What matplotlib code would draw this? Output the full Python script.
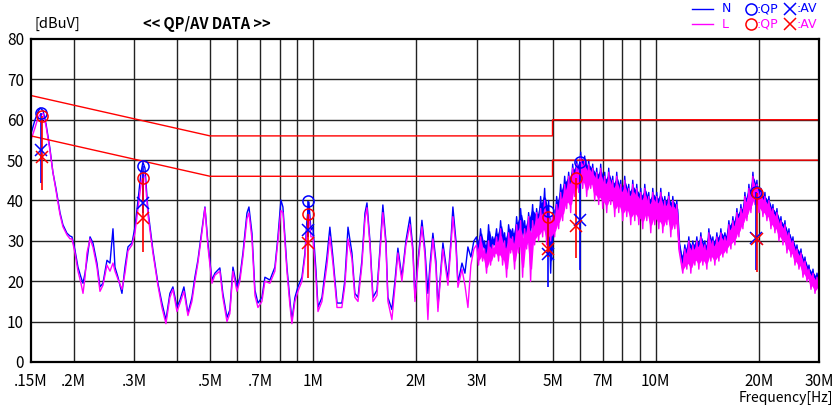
import numpy as np
import matplotlib.pyplot as plt
from matplotlib.lines import Line2D

plt.rcParams['font.family'] = ['Noto Sans CJK JP', 'DejaVu Sans']

# sweep points below 3 MHz [MHz], shared by N and L
f_low = [0.150, 0.1541, 0.1572, 0.1594, 0.1626, 0.1659, 0.1703, 0.1738, 0.1774, 0.1798,
         0.1823, 0.1859, 0.1910, 0.1950, 0.1976, 0.2016, 0.2057, 0.2099, 0.2128, 0.2157,
         0.2185, 0.2231, 0.2275, 0.2337, 0.2385, 0.2433, 0.2500, 0.2551, 0.2603, 0.2638,
         0.2692, 0.2765, 0.2822, 0.2879, 0.2958, 0.3018, 0.3080, 0.3143, 0.3184, 0.3228,
         0.3293, 0.3405, 0.3521, 0.3618, 0.3716, 0.3817, 0.3895, 0.4002, 0.4083, 0.4194,
         0.4309, 0.4426, 0.4515, 0.4607, 0.4733, 0.4831, 0.4929, 0.5064, 0.5165, 0.5341,
         0.5449, 0.5602, 0.5712, 0.5832, 0.5990, 0.6109, 0.6237, 0.6408, 0.6494, 0.6627,
         0.6761, 0.6899, 0.7086, 0.7230, 0.7477, 0.7732, 0.7891, 0.8051, 0.8161, 0.8384,
         0.8554, 0.8670, 0.8847, 0.9026, 0.9273, 0.9462, 0.9590, 0.9720, 0.9851, 0.9986,
         1.019, 1.033, 1.061, 1.097, 1.119, 1.142, 1.174, 1.213, 1.238, 1.264,
         1.298, 1.324, 1.352, 1.388, 1.417, 1.436, 1.465, 1.495, 1.536, 1.567,
         1.598, 1.631, 1.653, 1.698, 1.733, 1.768, 1.816, 1.866, 1.917, 1.956,
         1.983, 2.023, 2.078, 2.120, 2.163, 2.193, 2.237, 2.283, 2.314, 2.345,
         2.393, 2.442, 2.475, 2.525, 2.559, 2.612, 2.647, 2.720, 2.775, 2.831,
         2.888, 2.947]

n_low = [56.5, 60, 62, 62.9, 62.3, 59, 53, 47, 43, 40,
         37, 34, 31.9, 31.2, 31, 27.7, 23.5, 21, 19.5, 22,
         25.2, 31, 29.5, 24.5, 18.6, 19.5, 25.2, 24.5, 33, 23.5,
         21, 17, 23.5, 28.5, 29.5, 33.4, 40, 47, 49.5, 48,
         37.6, 27.7, 19.5, 14.6, 10.4, 17, 18.6, 13.6, 15.3, 18.6,
         12, 16, 21, 25.2, 32.7, 38.4, 29.5, 20.3, 22, 23.3,
         17, 11, 12.9, 23.5, 18.6, 21, 27, 36.9, 38.4, 31.9,
         17.8, 14.6, 16, 21, 20.3, 23.5, 31, 40.1, 38.4, 23.5,
         15.3, 10.4, 16, 18.6, 21, 27, 35, 39.6, 32.7, 33.4,
         22.8, 13.6, 16, 26, 33.4, 26, 14.6, 14.6, 20.3, 33.4,
         27, 17, 16, 25.2, 36.9, 39.4, 30, 16, 17.8, 28,
         38.9, 30, 16, 13, 20, 28.2, 21, 30, 35.9, 28,
         16, 25, 35.1, 28, 17, 24, 31.9, 25, 13.6, 20,
         29.5, 24, 20.3, 30, 38.4, 30, 19.5, 24.5, 22, 28.5,
         26, 30]

l_low = [55, 58, 60.5, 61.3, 61.5, 58.5, 52.5, 47, 42.5, 39.5,
         36.5, 33.5, 31.5, 30.5, 30.5, 27, 22.5, 19.5, 17, 21,
         27, 30.5, 28.5, 23.5, 17.5, 19, 24, 22.5, 24.5, 22.5,
         20.5, 18, 22, 27.5, 29, 32, 38, 44, 46.5, 46,
         36.5, 27, 19, 13.5, 9.5, 16, 18, 12.5, 14.5, 17.5,
         11.5, 15, 20, 24.5, 32, 38.2, 28.5, 19.5, 21.5, 22.5,
         16, 10, 12, 22.5, 17.5, 20, 26, 35.5, 36.9, 30.5,
         16.5, 13.5, 15, 20, 19.5, 22.5, 30, 37.5, 37, 22.5,
         14, 9.5, 15, 17.5, 20, 26, 33, 36.5, 31, 31,
         21, 12.5, 15, 24, 31, 24.5, 13.5, 13.5, 19, 30.5,
         25.5, 16, 15, 24, 35.5, 38.2, 29, 15, 16.5, 27,
         37, 29, 15, 10.5, 18.5, 27, 20, 29, 34, 27,
         15, 24, 33.5, 26.5, 10.5, 22, 30.5, 23.5, 12.5, 19,
         28, 22.5, 19, 28.5, 36, 28.5, 18.5, 23, 19, 13.5,
         24, 28]

# 3 - 30 MHz: dense sweep, levels
n_high = [31, 26, 33, 28, 30, 25, 34, 27, 31, 29,
          33, 27, 35, 29, 32, 26, 34, 30, 33, 28,
          36, 30, 38, 31, 35, 29, 37, 32, 39, 31,
          38, 32, 41, 34, 43, 31, 40, 22, 37, 33,
          41, 36, 44, 38, 46, 40, 47, 41, 49, 43,
          50, 44, 52, 45, 51, 43, 50, 44, 49, 42,
          48, 41, 49, 40, 47, 39, 48, 40, 46, 38,
          47, 39, 45, 37, 46, 38, 44, 36, 45, 37,
          44, 36, 43, 35, 44, 37, 42, 34, 43, 36,
          42, 35, 43, 34, 41, 36, 42, 33, 41, 35,
          40, 30, 27, 24, 29, 25, 31, 24, 30, 26,
          31, 25, 32, 26, 30, 25, 33, 27, 31, 26,
          32, 27, 33, 28, 32, 29, 35, 30, 36, 31,
          38, 32, 39, 34, 42, 36, 44, 38, 47, 40,
          45, 38, 43, 37, 42, 36, 41, 34, 39, 33,
          38, 31, 36, 30, 35, 28, 33, 27, 31, 25,
          29, 24, 28, 22, 26, 21, 24, 19, 23, 18,
          22, 19]

l_high = [29, 24, 31, 25, 28, 22, 30, 24, 29, 26,
          31, 25, 33, 24, 30, 21, 32, 27, 31, 23,
          34, 27, 35, 21, 33, 28, 36, 20, 35, 29,
          37, 30, 38, 31, 40, 29, 37, 30, 36, 31,
          39, 33, 42, 35, 44, 38, 46, 37, 48, 41,
          49, 42, 51, 43, 50, 41, 49, 43, 48, 40,
          47, 39, 48, 38, 46, 37, 47, 39, 45, 36,
          46, 37, 44, 35, 45, 36, 43, 34, 44, 35,
          43, 34, 42, 33, 43, 35, 41, 32, 42, 34,
          41, 33, 42, 32, 40, 34, 41, 31, 40, 33,
          39, 28, 25, 22, 28, 23, 30, 22, 29, 24,
          30, 23, 31, 24, 29, 23, 32, 25, 30, 24,
          31, 25, 32, 26, 31, 27, 34, 28, 35, 29,
          37, 31, 38, 33, 41, 35, 43, 37, 46, 39,
          44, 37, 42, 36, 41, 35, 40, 33, 38, 32,
          37, 30, 35, 29, 34, 27, 32, 26, 30, 24,
          28, 23, 27, 21, 25, 20, 23, 18, 22, 17,
          21, 18]

# limit lines
lim_f = [0.15, 0.5, 5, 5, 30]
lim_qp = [66, 56, 56, 60, 60]
lim_av = [56, 46, 46, 50, 50]

# final measurement points: freq [MHz], QP, AV, lower end of the stick
pk_f_n = [0.160, 0.319, 0.967, 4.86, 6.01, 19.63]
pk_qp_n = [61.6, 48.5, 39.9, 37.4, 49.6, 42.2]
pk_av_n = [52.5, 39.3, 32.7, 26.7, 35.1, 30.6]
pk_lo_n = [44.3, 37.0, 31.0, 18.5, 22.8, 22.8]

pk_f_l = [0.161, 0.319, 0.967, 4.84, 5.85, 19.8]
pk_qp_l = [61.0, 45.6, 36.6, 35.8, 45.5, 41.8]
pk_av_l = [50.7, 35.6, 29.5, 27.9, 33.7, 30.4]
pk_lo_l = [42.6, 27.3, 20.8, 26.0, 25.7, 22.4]

xtick_f = [0.15, 0.2, 0.3, 0.5, 0.7, 1, 2, 3, 5, 7, 10, 20, 30]
xtick_lab = ['.15M', '.2M', '.3M', '.5M', '.7M', '1M', '2M', '3M', '5M', '7M', '10M', '20M', '30M']
grid_f = [0.2, 0.3, 0.4, 0.5, 0.6, 0.7, 0.8, 0.9, 1, 2, 3, 4, 5, 6, 7, 8, 9, 10, 20]

BLUE = '#0000ff'
MAG = '#ff00ff'
RED = '#ff0000'


def noise_band(ax, f, lv, color, z):
    # dense sweep: fill the core of each pair of neighbouring readings
    lv = np.asarray(lv, dtype=float)
    f = np.asarray(f)
    lo = np.minimum(lv[:-1], lv[1:])
    hi = np.maximum(lv[:-1], lv[1:])
    mid = (lo + hi) / 2
    half = (hi - lo) / 2 * 0.6
    fm = np.sqrt(f[:-1] * f[1:])
    ax.fill_between(fm, mid - half, mid + half, color=color, lw=0, zorder=z)


f_high = np.geomspace(3.0, 30.0, len(n_high))
f_all = np.concatenate([f_low, f_high])
lv_n = np.concatenate([n_low, n_high])
lv_l = np.concatenate([l_low, l_high])

fig = plt.figure(figsize=(8.36, 4.05), dpi=100)
ax = fig.add_axes([31 / 836, 43 / 405, 788 / 836, 323 / 405])
ax.set_xscale('log')
ax.set_xlim(0.15, 30)
ax.set_ylim(0, 80)

for g in grid_f:
    ax.axvline(g, color='#222222', lw=1.0, zorder=1)
for g in range(10, 80, 10):
    ax.axhline(g, color='#222222', lw=1.0, zorder=1)

ax.plot(f_all, lv_n, color=BLUE, lw=1.0, zorder=3)
noise_band(ax, f_high, n_high, BLUE, 3)
ax.plot(f_all, lv_l, color=MAG, lw=1.0, zorder=4)
noise_band(ax, f_high, l_high, MAG, 4)

ax.plot(lim_f, lim_qp, color=RED, lw=1.0, zorder=5)
ax.plot(lim_f, lim_av, color=RED, lw=1.0, zorder=5)

ax.vlines(pk_f_n, pk_lo_n, pk_qp_n, color=BLUE, lw=1.2, zorder=6)
ax.vlines(pk_f_l, pk_lo_l, pk_qp_l, color=RED, lw=1.2, zorder=6)
ax.plot(pk_f_n, pk_qp_n, 'o', mfc='none', mec=BLUE, ms=8, mew=1.1, zorder=7)
ax.plot(pk_f_n, pk_av_n, 'x', color=BLUE, ms=8, mew=1.1, zorder=7)
ax.plot(pk_f_l, pk_qp_l, 'o', mfc='none', mec=RED, ms=8, mew=1.1, zorder=7)
ax.plot(pk_f_l, pk_av_l, 'x', color=RED, ms=8, mew=1.1, zorder=7)

ax.minorticks_off()
ax.set_xticks(xtick_f)
ax.set_xticklabels(xtick_lab)
ax.set_yticks(range(0, 90, 10))
ax.tick_params(axis='both', length=0, labelsize=11, colors='black')
ax.tick_params(axis='x', pad=8)
ax.tick_params(axis='y', pad=5)
for s in ax.spines.values():
    s.set_linewidth(1.6)
    s.set_zorder(8)

fig.text(34 / 836, 1 - 24 / 405, '[dBuV]', fontsize=10.5, va='center', ha='left')
fig.text(207 / 836, 1 - 24 / 405, '<< QP/AV DATA >>', fontsize=10.5, fontweight='bold',
         va='center', ha='center')
fig.text(833 / 836, 1 - 398 / 405, 'Frequency[Hz]', fontsize=10, va='center', ha='right')

# legend, top right
rows = [(9, BLUE, BLUE, 'N'), (24, MAG, RED, 'L')]
for y, lc, mc, name in rows:
    yy = 1 - y / 405
    fig.add_artist(Line2D([692 / 836, 713 / 836], [yy, yy], color=lc, lw=1.0))
    fig.text(722 / 836, yy, name, color=lc, fontsize=9, family='DejaVu Sans',
             va='center', ha='left')
    fig.add_artist(Line2D([751 / 836], [yy], marker='o', mfc='none', mec=mc, ms=8, mew=1.1))
    fig.text(757 / 836, yy, ':QP', color=lc, fontsize=9, family='DejaVu Sans',
             va='center', ha='left')
    fig.add_artist(Line2D([790 / 836], [yy], marker='x', color=mc, ms=8, mew=1.1))
    fig.text(797 / 836, yy, ':AV', color=lc, fontsize=9, family='DejaVu Sans',
             va='center', ha='left')

fig.savefig('out.png', dpi=100)
